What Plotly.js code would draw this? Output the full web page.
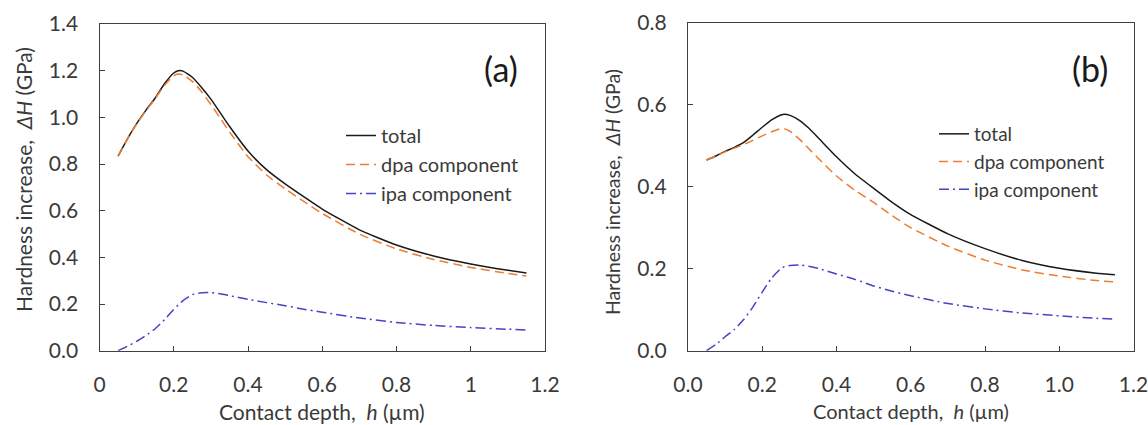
<!DOCTYPE html>
<html>
<head>
<meta charset="utf-8">
<script src="https://cdn.plot.ly/plotly-3.0.1.min.js"></script>
<style>
html,body{margin:0;padding:0;background:#fff;}
#chart{width:1148px;height:425px;}
</style>
</head>
<body>
<div id="chart"></div>
<script>
// ---------- Panel (a) ----------
var hA = [0.05, 0.075, 0.1, 0.125, 0.15, 0.175, 0.2, 0.212, 0.225, 0.25, 0.275, 0.3, 0.325, 0.35, 0.4, 0.45, 0.5, 0.55, 0.6, 0.7, 0.8, 0.9, 1.0, 1.1, 1.15];
var totalA = [0.834, 0.907, 0.973, 1.030, 1.083, 1.144, 1.190, 1.200, 1.198, 1.172, 1.128, 1.078, 1.020, 0.962, 0.856, 0.776, 0.715, 0.660, 0.607, 0.518, 0.453, 0.406, 0.372, 0.345, 0.333];
var dpaA   = [0.834, 0.907, 0.972, 1.028, 1.080, 1.137, 1.178, 1.186, 1.182, 1.154, 1.110, 1.055, 0.997, 0.938, 0.831, 0.753, 0.694, 0.640, 0.588, 0.500, 0.436, 0.391, 0.357, 0.331, 0.320];
var ipaA   = [0.000, 0.019, 0.040, 0.065, 0.094, 0.133, 0.177, 0.196, 0.215, 0.240, 0.248, 0.249, 0.244, 0.236, 0.220, 0.206, 0.193, 0.178, 0.165, 0.140, 0.121, 0.108, 0.099, 0.092, 0.089];

// ---------- Panel (b) ----------
var hB = [0.05, 0.075, 0.1, 0.125, 0.15, 0.175, 0.2, 0.225, 0.25, 0.26, 0.275, 0.3, 0.325, 0.35, 0.4, 0.45, 0.5, 0.55, 0.6, 0.7, 0.8, 0.9, 1.0, 1.1, 1.15];
var totalB = [0.465, 0.475, 0.486, 0.496, 0.508, 0.526, 0.545, 0.563, 0.575, 0.577, 0.574, 0.562, 0.543, 0.520, 0.473, 0.431, 0.396, 0.362, 0.332, 0.285, 0.249, 0.220, 0.201, 0.189, 0.185];
var dpaB   = [0.465, 0.475, 0.485, 0.494, 0.503, 0.513, 0.524, 0.534, 0.542, 0.541, 0.535, 0.516, 0.493, 0.470, 0.426, 0.391, 0.362, 0.329, 0.300, 0.255, 0.221, 0.197, 0.182, 0.171, 0.168];
var ipaB   = [0.000, 0.015, 0.034, 0.052, 0.076, 0.107, 0.143, 0.177, 0.200, 0.205, 0.208, 0.209, 0.206, 0.201, 0.187, 0.174, 0.158, 0.145, 0.134, 0.115, 0.102, 0.092, 0.085, 0.079, 0.077];

// axis settings (ranges and tick step)
var xRange = [0, 1.2];
var yRangeA = [0, 1.4];
var yRangeB = [0, 0.8];
var tickStep = 0.2;

var seriesNames = ['total', 'dpa component', 'ipa component'];
var panelLabels = ['(a)', '(b)'];
var xTitle = 'Contact depth,&nbsp; <i>h</i> (µm)';
var yTitle = 'Hardness increase,&nbsp; <i>ΔH</i> (GPa)';

var C_TOTAL = '#1a1a1a', C_DPA = '#ED7D31', C_IPA = '#4444C6';
var FONT = 'Lato, "Open Sans", sans-serif';
var TXT = '#3a3a3a';
var AX = '#404040';

var W = 1148, H = 425;
function px(v) { return v / W; }
function py(v) { return 1 - v / H; }

var boxA = {l: 99.5, r: 545, t: 24, b: 350.7};
var boxB = {l: 688, r: 1133.5, t: 22.7, b: 350.7};

function mk(x, y, name, color, dash, xa, ya, leg) {
  return {
    x: x, y: y, name: name, type: 'scatter', mode: 'lines',
    line: {color: color, width: 1.5, dash: dash, shape: 'spline', smoothing: 0.5},
    xaxis: xa, yaxis: ya, legend: leg, hoverinfo: 'skip'
  };
}

var traces = [
  mk(hA, totalA, seriesNames[0], C_TOTAL, 'solid', 'x', 'y', 'legend'),
  mk(hA, dpaA, seriesNames[1], C_DPA, '9px,5px', 'x', 'y', 'legend'),
  mk(hA, ipaA, seriesNames[2], C_IPA, '10px,4px,2px,4px', 'x', 'y', 'legend'),
  mk(hB, totalB, seriesNames[0], C_TOTAL, 'solid', 'x2', 'y2', 'legend2'),
  mk(hB, dpaB, seriesNames[1], C_DPA, '9px,5px', 'x2', 'y2', 'legend2'),
  mk(hB, ipaB, seriesNames[2], C_IPA, '10px,4px,2px,4px', 'x2', 'y2', 'legend2')
];

function axisBase(extra) {
  var a = {
    showgrid: false, zeroline: false, showline: true, mirror: true,
    linecolor: AX, linewidth: 1.3,
    ticks: 'inside', ticklen: 5, tickwidth: 1.2, tickcolor: AX,
    tickfont: {family: FONT, size: 21, color: TXT},
    ticklabeloverflow: 'allow', dtick: tickStep, tick0: 0
  };
  for (var k in extra) a[k] = extra[k];
  return a;
}

var layout = {
  width: W, height: H,
  margin: {l: 0, r: 0, t: 0, b: 0},
  paper_bgcolor: '#ffffff', plot_bgcolor: '#ffffff',
  font: {family: FONT, size: 18, color: TXT},
  xaxis: axisBase({domain: [px(boxA.l), px(boxA.r)], range: xRange, ticklabelstandoff: 15}),
  yaxis: axisBase({domain: [py(boxA.b), py(boxA.t)], range: yRangeA, tickformat: '.1f', ticklabelstandoff: 16}),
  xaxis2: axisBase({domain: [px(boxB.l), px(boxB.r)], range: xRange, tickformat: '.1f', anchor: 'y2', ticklabelstandoff: 15}),
  yaxis2: axisBase({domain: [py(boxB.b), py(boxB.t)], range: yRangeB, tickformat: '.1f', anchor: 'x2', ticklabelstandoff: 16}),
  showlegend: true,
  legend: {x: px(341), y: py(116), xanchor: 'left', yanchor: 'top', bgcolor: 'rgba(0,0,0,0)',
    font: {family: FONT, size: 20, color: TXT}, itemwidth: 30},
  legend2: {x: px(934), y: py(115), xanchor: 'left', yanchor: 'top', bgcolor: 'rgba(0,0,0,0)',
    font: {family: FONT, size: 19, color: TXT}, itemwidth: 30},
  annotations: [
    {text: panelLabels[0], xref: 'paper', yref: 'paper', x: px(501), y: py(68), xanchor: 'center', yanchor: 'middle',
     showarrow: false, font: {family: FONT, size: 34, color: '#1a1a1a'}},
    {text: panelLabels[1], xref: 'paper', yref: 'paper', x: px(1090), y: py(68), xanchor: 'center', yanchor: 'middle',
     showarrow: false, font: {family: FONT, size: 34, color: '#1a1a1a'}},
    {text: xTitle, xref: 'paper', yref: 'paper', x: px(322), y: py(411), xanchor: 'center', yanchor: 'middle',
     showarrow: false, font: {family: FONT, size: 21, color: TXT}},
    {text: xTitle, xref: 'paper', yref: 'paper', x: px(911), y: py(411), xanchor: 'center', yanchor: 'middle',
     showarrow: false, font: {family: FONT, size: 20, color: TXT}},
    {text: yTitle, xref: 'paper', yref: 'paper', x: px(23), y: py(180), xanchor: 'center', yanchor: 'middle',
     textangle: -90, showarrow: false, font: {family: FONT, size: 21, color: TXT}},
    {text: yTitle, xref: 'paper', yref: 'paper', x: px(612), y: py(192), xanchor: 'center', yanchor: 'middle',
     textangle: -90, showarrow: false, font: {family: FONT, size: 19.5, color: TXT}}
  ]
};

Plotly.newPlot('chart', traces, layout, {displayModeBar: false});
</script>
</body>
</html>
